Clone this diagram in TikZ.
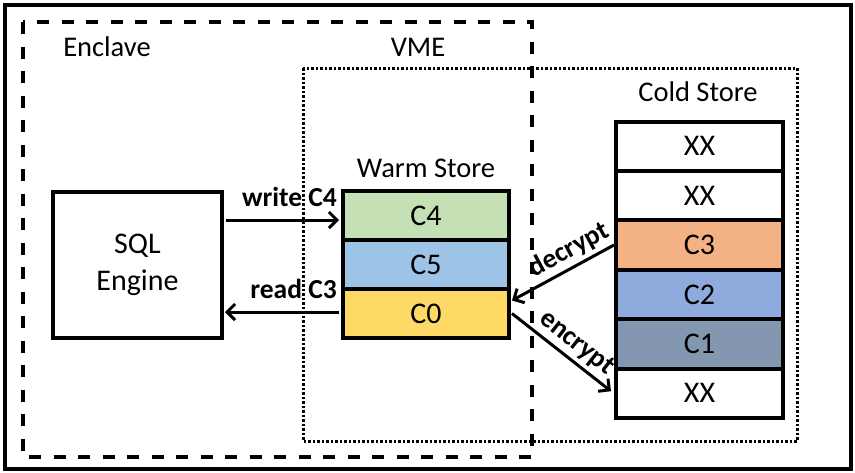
\documentclass[tikz,border=0pt]{standalone}
\usepackage{fontspec}
\setmainfont{Carlito}
\usetikzlibrary{arrows.meta}
\definecolor{cgreen}{HTML}{C5E0B4}
\definecolor{cblue}{HTML}{9DC3E6}
\definecolor{cyellow}{HTML}{FFD966}
\definecolor{corange}{HTML}{F4B183}
\definecolor{cblue2}{HTML}{8FAADC}
\definecolor{cslate}{HTML}{8497B0}
\begin{document}
\begin{tikzpicture}[x=1pt,y=-1pt,
  lbl/.style={font=\fontsize{28.5}{32}\selectfont, inner sep=0pt},
  cell/.style={draw, line width=4pt, minimum width=166pt, minimum height=49pt, inner sep=0pt, font=\fontsize{30}{34}\selectfont},
  ccell/.style={cell, minimum width=167pt, minimum height=49.4pt},
  arr/.style={line width=3pt, -{Straight Barb[length=8pt,width=16pt,line width=3pt]}},
  albl/.style={font=\bfseries\fontsize{27.5}{30}\selectfont, inner sep=1pt}
]
\useasboundingbox (0,0) rectangle (855,472);
% outer frame
\draw[line width=3.5pt] (5,5) rectangle (851,469);
% enclave (dashed) and VME (dotted)
\draw[line width=3.5pt, dash pattern=on 12pt off 12.5pt] (23,22) rectangle (532,457);
\draw[line width=3pt, dash pattern=on 2.5pt off 2pt] (303,68) rectangle (797,441);
% labels
\node[lbl] (enclave) at (107,47) {Enclave};
\node[lbl] (vme) at (418,47) {VME};
\node[lbl] (cold) at (698,92) {Cold Store};
\node[lbl] (warm) at (426,168) {Warm Store};
% SQL engine
\node[draw, line width=4pt, minimum width=169pt, minimum height=146pt, align=center,
      font=\fontsize{30}{37}\selectfont] (sql) at (137.5,265) {SQL\\Engine};
% warm store
\node[cell, fill=cgreen] (c4) at (426,215.5) {C4};
\node[cell, fill=cblue] (c5) at (426,264.5) {C5};
\node[cell, fill=cyellow] (c0) at (426,313.5) {C0};
% cold store
\node[ccell, fill=white] (x1) at (699.5,146.2) {XX};
\node[ccell, fill=white] (x2) at (699.5,195.6) {XX};
\node[ccell, fill=corange] (c3) at (699.5,245) {C3};
\node[ccell, fill=cblue2] (c2) at (699.5,294.4) {C2};
\node[ccell, fill=cslate] (c1) at (699.5,343.8) {C1};
\node[ccell, fill=white] (x3) at (699.5,393.2) {XX};
% arrows
\draw[arr] ([xshift=2pt,yshift=-4.5pt]sql.east |- c4.west) -- ([xshift=-2pt,yshift=-4.5pt]c4.west);
\node[albl, anchor=east] (wlbl) at (338,197) {write C4};
\draw[arr] ([xshift=-2pt,yshift=1.5pt]c0.west) -- ([xshift=1pt,yshift=1.5pt]sql.east |- c0.west);
\node[albl, anchor=east] (rlbl) at (338,289) {read C3};
\draw[arr] (c3.west) -- node[albl, sloped, above=3pt, pos=0.36] (dlbl) {decrypt} ([xshift=1pt,yshift=13pt]c0.east);
\draw[arr] ([xshift=1pt]c0.east) -- node[albl, sloped, above=3pt, pos=0.55] (elbl) {encrypt} ([xshift=-3pt,yshift=2pt]x3.west);
\end{tikzpicture}
\end{document}
